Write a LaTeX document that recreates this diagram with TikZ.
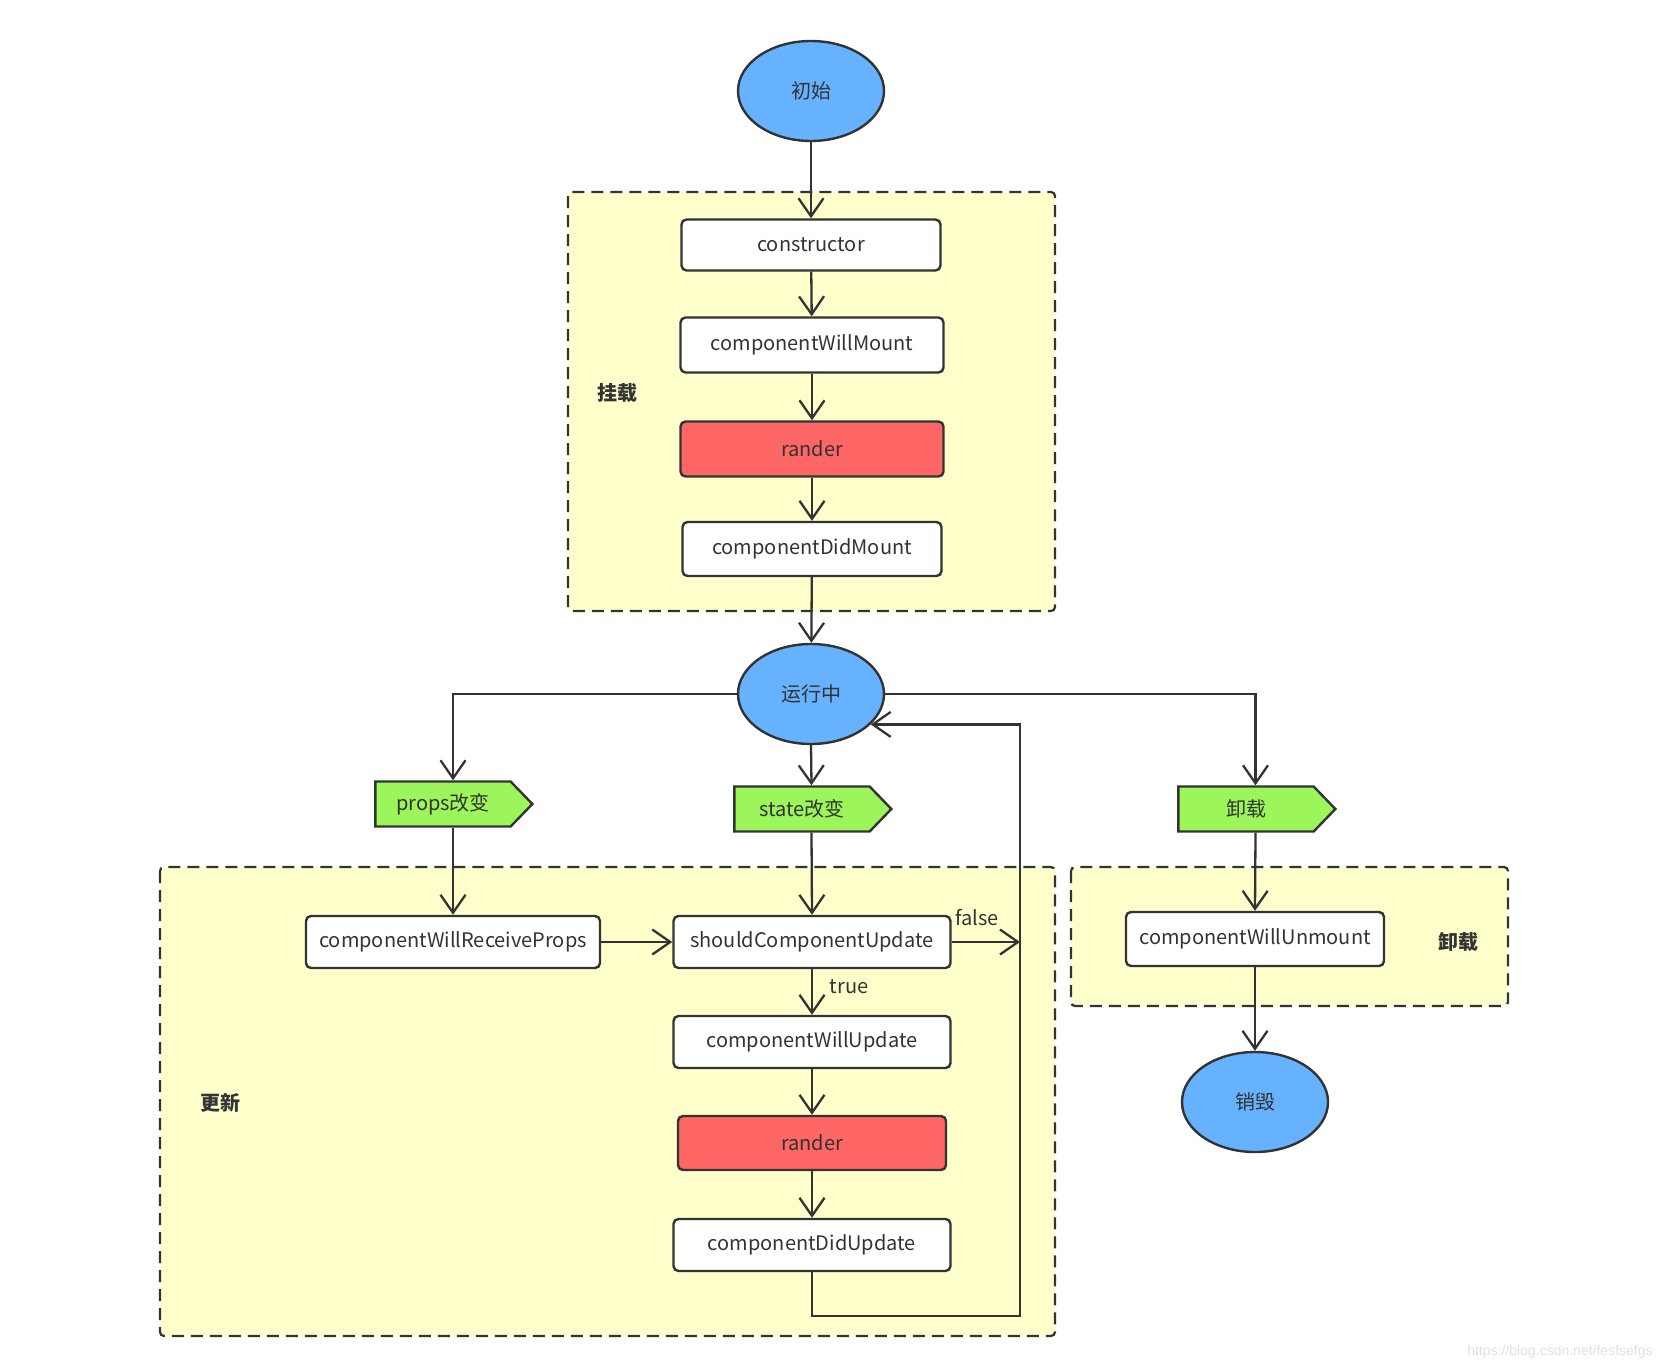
\documentclass[tikz,border=0pt]{standalone}
\usepackage{fontspec}
\setmainfont{Noto Sans CJK SC}
\newfontfamily\wmfont{Liberation Sans}
\usetikzlibrary{arrows.meta,shapes.geometric,shapes.symbols,calc}
\definecolor{ln}{HTML}{333333}
\definecolor{blu}{HTML}{66B2FF}
\definecolor{redf}{HTML}{FF6666}
\definecolor{grn}{HTML}{9CF55B}
\definecolor{ylw}{HTML}{FFFFCC}
\begin{document}
\begin{tikzpicture}[x=0.5pt,y=-0.5pt,
  font=\fontsize{10}{12}\selectfont, text=ln,
  every node/.style={inner sep=0pt},
  grp/.style={draw=ln, fill=ylw, line width=1.1pt, dash pattern=on 6pt off 3.5pt, rounded corners=2pt},
  ell/.style={ellipse, draw=ln, fill=blu, line width=1.2pt, minimum width=73pt, minimum height=50pt},
  box/.style={draw=ln, fill=white, line width=1.2pt, rounded corners=2.5pt, minimum height=26pt},
  redbox/.style={box, fill=redf},
  tag/.style={signal, signal to=east, signal pointer angle=92, draw=ln, fill=grn, line width=1.2pt, minimum width=78.5pt, minimum height=22.5pt},
  glabel/.style={font=\fontsize{10}{12}\selectfont\bfseries},
  arr/.style={draw=ln, line width=1.15pt, -{Straight Barb[length=9pt,width=12.5pt,line width=1.15pt]}}
]
\useasboundingbox (0,0) rectangle (1676,1370);

% group boxes
\draw[grp] (568,192) rectangle (1055,611);
\draw[grp] (160,867) rectangle (1055,1336);
\draw[grp] (1071,867) rectangle (1508,1006);

\node[glabel] (lmount) at (617,393) {挂载};
\node[glabel] (lupd) at (220,1103) {更新};
\node[glabel] (lunm) at (1458,942) {卸载};

% nodes
\node[ell] (init) at (811,91) {初始};
\node[box, minimum width=129.5pt, minimum height=25.5pt] (ctor) at (811,245) {constructor};
\node[box, minimum width=131.5pt, minimum height=27.5pt] (cwm) at (812,345) {componentWillMount};
\node[redbox, minimum width=131.5pt, minimum height=27.5pt] (r1) at (812,449) {rander};
\node[box, minimum width=129.5pt, minimum height=27pt] (cdm) at (812,549) {componentDidMount};

\node[ell] (run) at (811,694) {运行中};

\node[tag] (props) at (443,804) {props改变};
\node[tag] (state) at (802,809) {state改变};
\node[tag] (unm) at (1246,809) {卸载};

\node[box, minimum width=147pt] (cwrp) at (453,942) {componentWillReceiveProps};
\node[box, minimum width=138.5pt] (scu) at (812,942) {shouldComponentUpdate};
\node[box, minimum width=138.5pt] (cwu) at (812,1042) {componentWillUpdate};
\node[redbox, minimum width=134pt, minimum height=27pt] (r2) at (812,1143) {rander};
\node[box, minimum width=138.5pt] (cdu) at (812,1245) {componentDidUpdate};

\node[box, minimum width=129pt, minimum height=27pt] (cwum) at (1255,939) {componentWillUnmount};
\node[ell] (destroy) at (1255,1102) {销毁};

\node (lfalse) at (977,918) {false};
\node (ltrue) at (849,987) {true};

% connector points on the tags (their shapes are wider than the text centre)
\path (props.north) ++(10,0) coordinate (ptop);
\path (props.south) ++(10,0) coordinate (pbot);
\path (state.north) ++(9.5,0) coordinate (stop);
\path (state.south) ++(9.5,0) coordinate (sbot);
\path (unm.north) ++(9.5,0) coordinate (utop);
\path (unm.south) ++(9.5,0) coordinate (ubot);

\coordinate (fx) at (1020,942);
\coordinate (lb) at (1020,1316);
\coordinate (loopin) at (run.-27);
\coordinate (lt) at (lb |- loopin);

% connectors
\draw[arr] (init) -- (ctor);
\draw[arr] (ctor) -- (cwm);
\draw[arr] (cwm) -- (r1);
\draw[arr] (r1) -- (cdm);
\draw[arr] (cdm) -- (run);
\draw[arr] (run.west) -| (ptop);
\draw[arr] (run.east) -| (utop);
\draw[arr] (run.south |- run.south) -- (stop);
\draw[arr] (pbot) -- (cwrp.north);
\draw[arr] (sbot) -- (scu.north);
\draw[arr] (cwrp) -- (scu);
\draw[arr] (scu.east) -- (fx);
\draw[arr] (scu) -- (cwu);
\draw[arr] (cwu) -- (r2);
\draw[arr] (r2) -- (cdu);
\draw[arr] (cdu.south) |- (lb) -- (lt) -- (loopin);
\draw[arr] (ubot) -- (cwum.north);
\draw[arr] (cwum) -- (destroy);

\node[text=black!12, font=\wmfont\fontsize{7}{8}\selectfont] (wm) at (1560,1352) {https://blog.csdn.net/fesfsefgs};
\end{tikzpicture}
\end{document}
